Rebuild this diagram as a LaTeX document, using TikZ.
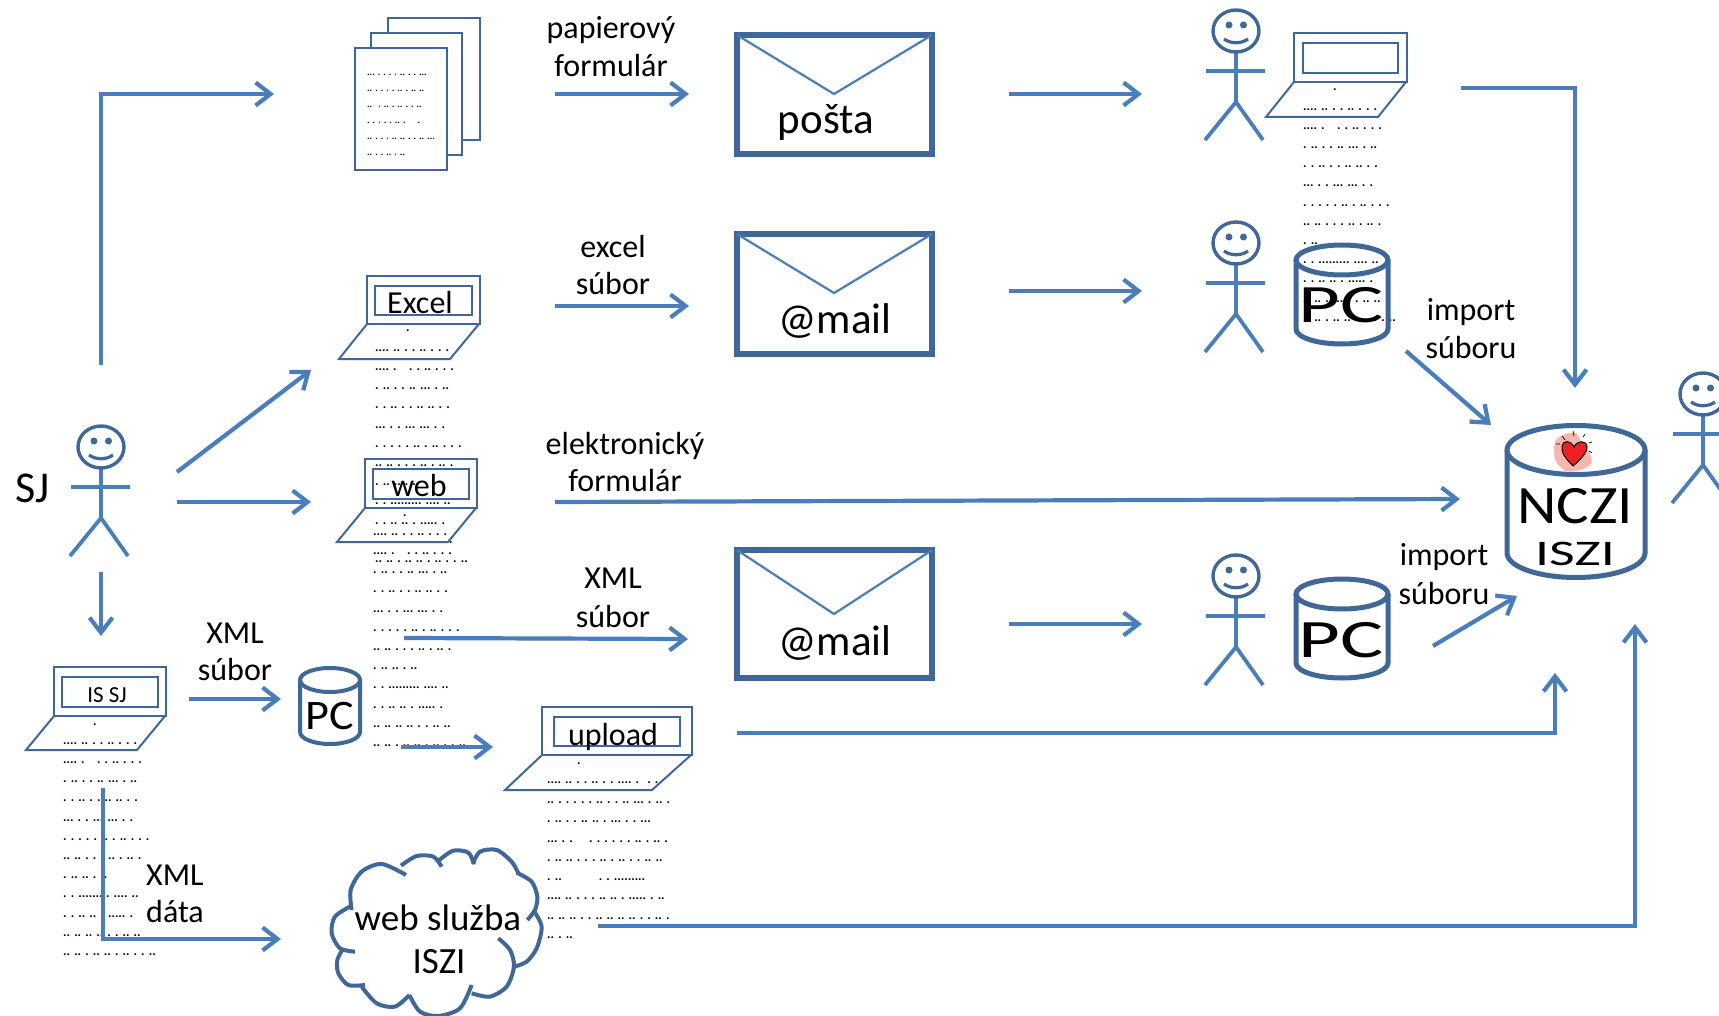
\documentclass[tikz,border=0pt]{standalone}
\usepackage{fontspec}
\usepackage{graphicx}
\setmainfont{Carlito}
\newfontfamily\dotfont[WordSpace=1.4]{Carlito Bold}
\usetikzlibrary{arrows.meta}
\definecolor{dark}{HTML}{3F6797}
\definecolor{lite}{HTML}{4A7EBB}
\definecolor{pink}{HTML}{F5B7AE}
\definecolor{hred}{HTML}{EE2024}
\newcommand\fsz[1]{\fontsize{#1}{#1}\selectfont}
\newcommand\lS{.}
\newcommand\lA{.... .. . . .. . . .}
\newcommand\lB{.... .~~ . . .. . . .}
\newcommand\lC{. .. . . .. ... . ..}
\newcommand\lD{. . .. . . .. .. . .}
\newcommand\lE{... . . ... ... . .}
\newcommand\lF{. . . . . .. . .. . . .}
\newcommand\lG{.. .. . . . .. . .. .}
\newcommand\lH{. .. .. . ..}
\newcommand\lHs{. ..}
\newcommand\lI{. . ......... .... ..}
\newcommand\lJ{. . .. .. . ..... .}
\newcommand\lK{.. .. .. .. . . .. ..}
\newcommand\lL{.. .. . .. .. . .. . . ..}
\tikzset{
  arr/.style={draw=lite,line width=4.2pt,miter limit=10,-{Straight Barb[length=15pt,width=23pt,line width=4.2pt]}},
  lbl/.style={anchor=base,inner sep=0pt,text=black,font=\fsz{32}},
  dotl/.style={anchor=base west,inner sep=0pt,text=black,font=\dotfont\frenchspacing\fsz{13}},
  dots/.style={anchor=base west,inner sep=0pt,text=black,font=\dotfont\frenchspacing\fsz{9.5}},
  paper/.style={draw=dark,line width=2.4pt,fill=white},
  scr/.style={draw=dark,line width=2pt},
  env/.style={draw=dark,line width=5.5pt,miter limit=10},
  flap/.style={draw=lite,line width=2.2pt},
  cyl/.style={draw=dark,line width=5pt},
  cld/.style={draw=dark,line width=4pt,line cap=butt},
  stick/.pic={
    \draw[lite,line width=3.8pt] (0,21) -- (0,71)
      (-30,40) -- (29,40)
      (-31,109) -- (0,71) -- (27,109);
    \draw[dark,line width=3.4pt] (0,0) ellipse [x radius=23,y radius=21];
    \fill[dark] (-7,-6) circle [radius=3.5] (7.5,-6) circle [radius=3.5];
    \draw[dark,line width=3.2pt] (-12,8) .. controls (-5,13) and (5,13) .. (12,8);
  }
}
% \laptop{x0}{y0}{x1}{y1}{inset}{baseleft}{baseright}{basey}
\newcommand\laptop[8]{%
  \draw[scr] (#1,#2) rectangle (#3,#4);
  \draw[scr] (#1+#5,#2+10) rectangle (#3-#5,#4-9);
  \draw[scr] (#1,#4) -- (#6,#8) -- (#7,#8) -- (#3-1,#4);
}
% \dotblock{id}{x0}{ysingle}{xsingle}{shortline}
\newcommand\dotblock[5]{%
  \node[dotl] (d#1-0) at (#4,#3) {.};
  \foreach \s [count=\i] in {\lA,\lB,\lC,\lD,\lE,\lF,\lG,#5,\lI,\lJ,\lK,\lL}
    \node[dotl] (d#1-\i) at (#2,{#3+\i*19.2}) {\s};
}
\begin{document}
\begin{tikzpicture}[x=1pt,y=-1pt]
\useasboundingbox (0,0) rectangle (1719,1016);
\clip (0,0) rectangle (1719,1016);
\fill[white] (0,0) rectangle (1719,1016);

% ---- dot text blocks (drawn first, everything lies over them)
\dotblock{a}{1303}{91}{1333}{\lHs}
\dotblock{b}{375}{332}{406}{\lH}
\dotblock{c}{373}{516}{403}{\lH}
\dotblock{d}{63}{725}{93}{\lH}
\node[dotl] (u0) at (577,764) {.};
\node[dotl] (u1) at (547,783) {.... .. . . .. . . .... .~~. .};
\node[dotl] (u2) at (547,803) {.. . . . . . .. . . .. ... . .. .};
\node[dotl] (u3) at (547,822) {. .. . . .. .. . ... . . ...};
\node[dotl] (u4) at (547,842) {... . .~~~~. . . . . . .. . .. .};
\node[dotl] (u5) at (547,861) {. .. .. . . . .. . .. . . .. ..};
\node[dotl] (u6) at (547,880) {. ..~~~~~~~~~. . .........};
\node[dotl] (u7) at (547,899) {.... .. . . . .. .. . ..... . ..};
\node[dotl] (u8) at (547,919) {.. .. .. . . .. .. .. .. . . .. .};
\node[dotl] (u9) at (547,938) {.. . ..};

% ---- paper forms
\draw[paper] (388,18) rectangle (480,140);
\draw[paper] (371,33) rectangle (462,155);
\draw[paper] (355,48) rectangle (447,170);
\node[dots] (p1) at (367,76) {... . . . . .. . . ...};
\node[dots] (p2) at (367,92) {.. . . . . .. . .. ..};
\node[dots] (p3) at (367,108) {..~~. .. . .. . . ..};
\node[dots] (p4) at (367,124) {. . . . . .. .~~~~.};
\node[dots] (p5) at (367,140) {.. . . . .. .. . . .. ...};
\node[dots] (p6) at (367,156) {.. . . .. . ..};

% ---- laptops
\laptop{367}{276}{480}{324}{8}{339}{450}{359}
\laptop{365}{459}{477}{508}{8}{337}{448}{542}
\laptop{1294}{33}{1407}{82}{9}{1266}{1378}{117}
\laptop{54}{667}{166}{716}{8}{26}{137}{750}
\laptop{542}{707}{692}{755}{12}{505}{652}{790}
\node[lbl] (tExcel) at (420,314) {Excel};
\node[lbl] (tWeb) at (419,496) {web};
\node[lbl,font=\fsz{23}] (tIS) at (107,702) {IS SJ};
\node[lbl] (tUp) at (613,745) {upload};

% ---- envelopes
\foreach \t/\h/\a in {32/125/62,231/126/62,547/134/67}{
  \draw[env] (737,\t+3) rectangle (932,\t+\h-3);
  \draw[flap] (737,\t+3) -- (834,\t+\a) -- (932,\t+3);
}
\node[lbl,font=\fsz{43}] (tPosta) at (826,134) {pošta};
\node[lbl,font=\fsz{43}] (tMailA) at (835,334) {@mail};
\node[lbl,font=\fsz{43}] (tMailB) at (835,655) {@mail};

% ---- stick figures
\pic (f1) at (1236,31) {stick};
\pic (f2) at (1236,243) {stick};
\pic (f3) at (1236,576) {stick};
\pic (f4) at (101,447) {stick};
\pic (f5) at (1703,394) {stick};

% ---- PC cylinders
\draw[cyl] (1342,260) ellipse [x radius=46,y radius=15];
\draw[cyl] (1296,260) -- (1296,329) arc [start angle=180,end angle=0,x radius=46,y radius=15] -- (1388,260);
\node[lbl,font=\fsz{54}] (tPC1) at (1341,323) {\scalebox{1.5}[1]{PC}};
\draw[cyl] (1342,594) ellipse [x radius=46,y radius=15];
\draw[cyl] (1296,594) -- (1296,663) arc [start angle=180,end angle=0,x radius=46,y radius=15] -- (1388,594);
\node[lbl,font=\fsz{54}] (tPC2) at (1341,657) {\scalebox{1.5}[1]{PC}};
\draw[draw=dark,line width=4pt] (330,680) ellipse [x radius=30,y radius=12];
\draw[draw=dark,line width=4pt] (300,680) -- (300,732) arc [start angle=180,end angle=0,x radius=30,y radius=12] -- (360,680);
\node[lbl,font=\fsz{42}] (tPC3) at (330,729) {\scalebox{1.1}[1]{PC}};

% ---- NCZI cylinder
\fill[pink] plot[smooth cycle] coordinates {(1556,440) (1565,434) (1576,433) (1581,441) (1590,454) (1591,464) (1580,470) (1566,471) (1556,462) (1554,450)};
\fill[hred,draw=black,line width=1pt] (1573,466) .. controls (1565,458) and (1561,452) .. (1562,446)
  .. controls (1563,440) and (1571,440) .. (1574,447)
  .. controls (1577,440) and (1587,440) .. (1587,447)
  .. controls (1587,453) and (1580,460) .. (1573,466);
\draw[black,line width=.7pt] (1562,436)--(1565,440) (1573,431)--(1574,436) (1585,434)--(1583,437)
  (1592,442)--(1589,443) (1592,453)--(1589,451) (1556,444)--(1560,444);
\draw[cyl] (1576,450) ellipse [x radius=69,y radius=24.5];
\draw[cyl] (1507,450) -- (1507,553) arc [start angle=180,end angle=0,x radius=69,y radius=24.5] -- (1645,450);
\node[lbl,font=\fsz{54}] (tNCZI) at (1575,523) {\scalebox{1.13}[1]{NCZI}};
\node[lbl,font=\fsz{36}] (tISZI) at (1575,565) {\scalebox{1.55}[1]{ISZI}};

% ---- cloud
\begin{scope}[shift={(320,700)},x=0.3333pt,y=-0.3333pt]
\draw[cld] plot[smooth] coordinates {(95,630) (92,570) (125,515) (185,492) (258,525)};
\draw[cld] plot[smooth] coordinates {(243,497) (290,468) (340,470) (365,500)};
\draw[cld] plot[smooth] coordinates {(358,480) (400,452) (445,458) (462,492)};
\draw[cld] plot[smooth] coordinates {(458,492) (480,455) (530,450) (575,485) (595,520)};
\draw[cld] plot[smooth] coordinates {(590,518) (635,545) (652,590) (645,630) (622,660)};
\draw[cld] plot[smooth] coordinates {(640,630) (665,680) (650,745) (620,785) (583,800)};
\draw[cld] plot[smooth] coordinates {(535,715) (570,750) (582,800) (560,860) (510,890) (455,880)};
\draw[cld] plot[smooth] coordinates {(268,885) (300,935) (355,948) (420,925) (455,855)};
\draw[cld] plot[smooth] coordinates {(268,885) (225,920) (170,910) (125,860)};
\draw[cld] plot[smooth] coordinates {(135,855) (85,855) (55,820) (52,780) (70,745)};
\draw[cld] plot[smooth] coordinates {(105,755) (60,745) (35,700) (45,650) (95,617)};
\end{scope}
\node[lbl,font=\fsz{37}] (tWS) at (438,930) {web služba};
\node[lbl,font=\fsz{37}] (tISZIb) at (439,973) {ISZI};

% ---- labels
\node[lbl,font=\fsz{44}] (tSJ) at (33,502) {SJ};
\node[lbl] (l1a) at (611,39) {papierový};
\node[lbl] (l1b) at (611,77) {formulár};
\node[lbl] (l2a) at (613,258) {excel};
\node[lbl] (l2b) at (613,295) {súbor};
\node[lbl] (l3a) at (625,454) {elektronický};
\node[lbl] (l3b) at (625,491) {formulár};
\node[lbl] (l4a) at (613,588) {XML};
\node[lbl] (l4b) at (613,627) {súbor};
\node[lbl] (l5a) at (235,643) {XML};
\node[lbl] (l5b) at (235,680) {súbor};
\node[lbl,anchor=base west] (l6a) at (146,885) {XML};
\node[lbl,anchor=base west] (l6b) at (146,922) {dáta};
\node[lbl] (l7a) at (1471,320) {import};
\node[lbl] (l7b) at (1471,358) {súboru};
\node[lbl] (l8a) at (1444,565) {import};
\node[lbl] (l8b) at (1444,604) {súboru};

% ---- connector ends
\coordinate (a1s) at (101,365); \coordinate (a1m) at (101,94); \coordinate (a1e) at (274,94);
\coordinate (a2s) at (555,94); \coordinate (a2e) at (689,94);
\coordinate (a3s) at (1009,94); \coordinate (a3e) at (1142,94);
\coordinate (a4s) at (555,306); \coordinate (a4e) at (689,306);
\coordinate (a5s) at (1009,291); \coordinate (a5e) at (1142,291);
\coordinate (a6s) at (177,472); \coordinate (a6e) at (311,370);
\coordinate (a7s) at (177,502); \coordinate (a7e) at (311,502);
\coordinate (a8s) at (555,502); \coordinate (a8e) at (1460,499);
\coordinate (a9s) at (404,638); \coordinate (a9e) at (688,639);
\coordinate (a10s) at (1009,624); \coordinate (a10e) at (1142,624);
\coordinate (a11s) at (101,572); \coordinate (a11e) at (101,636);
\coordinate (a12s) at (189,699); \coordinate (a12e) at (281,699);
\coordinate (a13s) at (401,747); \coordinate (a13e) at (493,747);
\coordinate (a14s) at (737,733); \coordinate (a14m) at (1555,733); \coordinate (a14e) at (1555,673);
\coordinate (a15s) at (598,926); \coordinate (a15m) at (1635,926); \coordinate (a15e) at (1635,624);
\coordinate (a16s) at (103,788); \coordinate (a16m) at (103,939); \coordinate (a16e) at (281,939);
\coordinate (a17s) at (1461,88); \coordinate (a17m) at (1575,88); \coordinate (a17e) at (1575,388);
\coordinate (a18s) at (1406,351); \coordinate (a18e) at (1491,425);
\coordinate (a19s) at (1433,646); \coordinate (a19e) at (1517,596);

% ---- connectors
\draw[arr] (a1s) -- (a1m) -- (a1e);
\draw[arr] (a2s) -- (a2e);
\draw[arr] (a3s) -- (a3e);
\draw[arr] (a4s) -- (a4e);
\draw[arr] (a5s) -- (a5e);
\draw[arr] (a6s) -- (a6e);
\draw[arr] (a7s) -- (a7e);
\draw[arr] (a8s) -- (a8e);
\draw[arr] (a9s) -- (a9e);
\draw[arr] (a10s) -- (a10e);
\draw[arr] (a11s) -- (a11e);
\draw[arr] (a12s) -- (a12e);
\draw[arr] (a13s) -- (a13e);
\draw[arr] (a14s) -- (a14m) -- (a14e);
\draw[arr] (a15s) -- (a15m) -- (a15e);
\draw[arr] (a16s) -- (a16m) -- (a16e);
\draw[arr] (a17s) -- (a17m) -- (a17e);
\draw[arr] (a18s) -- (a18e);
\draw[arr] (a19s) -- (a19e);
\end{tikzpicture}
\end{document}
